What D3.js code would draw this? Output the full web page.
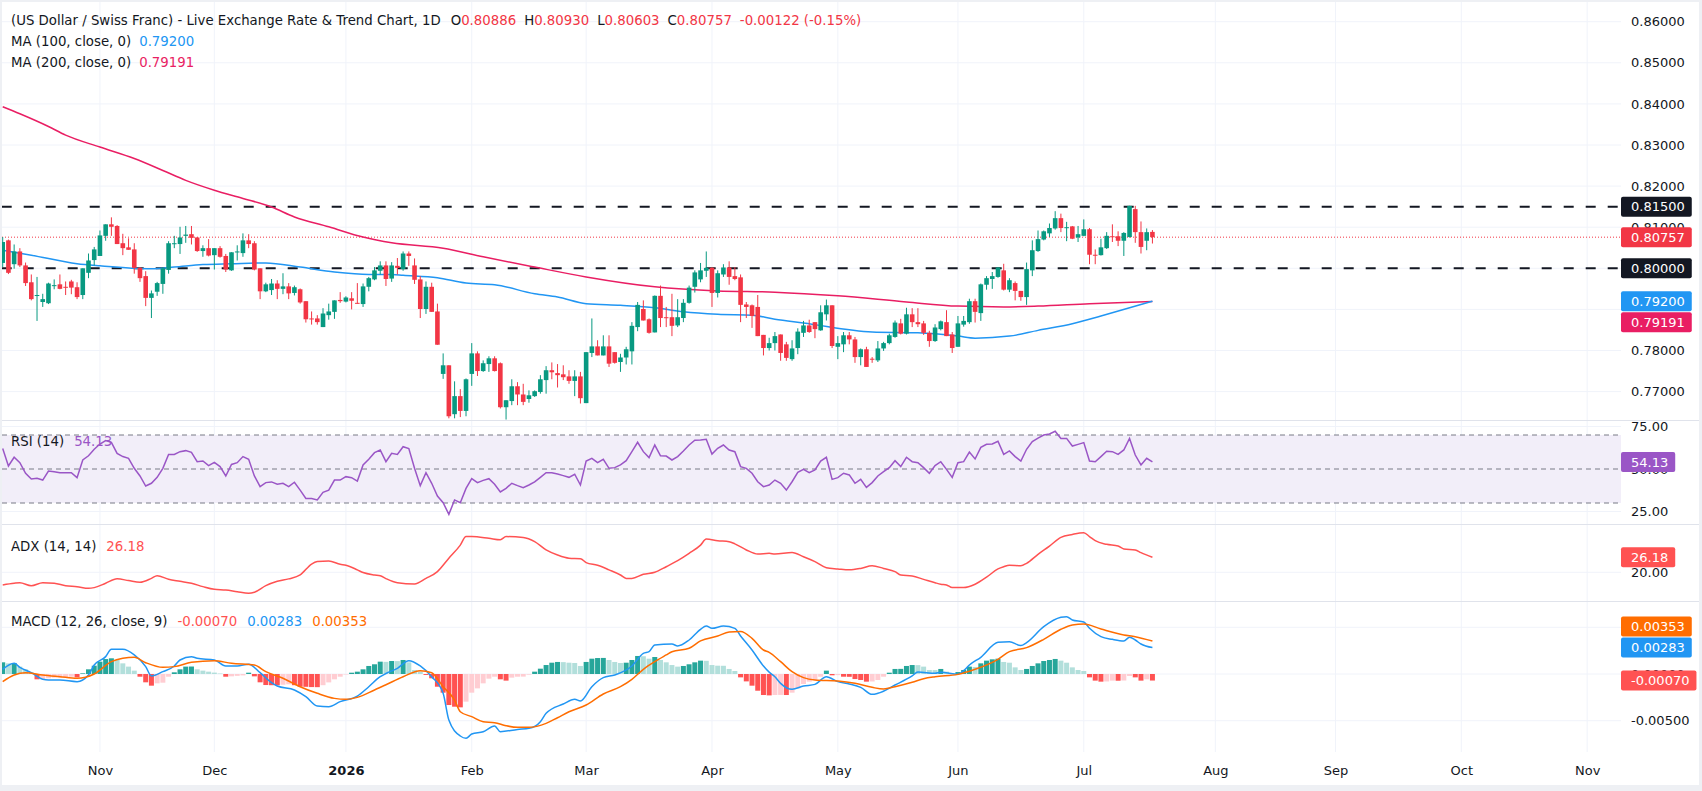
<!DOCTYPE html>
<html><head><meta charset="utf-8">
<script src="https://cdn.jsdelivr.net/npm/d3@7"></script>
<style>
html,body{margin:0;padding:0;background:#eef0f4;}
svg{display:block;}
text{font-family:"DejaVu Sans",sans-serif;font-size:13px;}
text.lg{font-size:13.3px;}
</style></head><body>
<svg id="c" width="1702" height="791"></svg>
<script>
// ---------------- DATA ----------------
const firstBarDate = "2025-10-09";
const open = [0.8013,0.8068,0.8010,0.8041,0.8007,0.7966,0.7933,0.7918,0.7915,0.7957,
0.7961,0.7955,0.7968,0.7954,0.7935,0.7989,0.8020,0.8030,0.8079,0.8107,
0.8103,0.8061,0.8051,0.8046,0.8001,0.7981,0.7928,0.7943,0.7962,0.7996,
0.8059,0.8059,0.8079,0.8083,0.8075,0.8042,0.8049,0.8032,0.8049,0.8030,
0.7995,0.8039,0.8037,0.8068,0.8061,0.8000,0.7944,0.7947,0.7963,0.7950,
0.7956,0.7940,0.7949,0.7920,0.7878,0.7878,0.7857,0.7886,0.7894,0.7923,
0.7919,0.7927,0.7916,0.7913,0.7955,0.7973,0.7994,0.8007,0.7975,0.8006,
0.7998,0.8036,0.8007,0.7973,0.7901,0.7955,0.7895,0.7743,0.7764,0.7645,
0.7689,0.7653,0.7743,0.7793,0.7750,0.7767,0.7781,0.7769,0.7662,0.7677,
0.7713,0.7693,0.7682,0.7689,0.7699,0.7728,0.7752,0.7745,0.7742,0.7737,
0.7726,0.7737,0.7672,0.7794,0.7810,0.7788,0.7810,0.7796,0.7772,0.7783,
0.7798,0.7857,0.7901,0.7876,0.7844,0.7933,0.7881,0.7881,0.7861,0.7879,
0.7916,0.7955,0.7973,0.7994,0.8001,0.7940,0.7985,0.8002,0.7981,0.7978,
0.7912,0.7910,0.7906,0.7838,0.7806,0.7818,0.7839,0.7815,0.7779,0.7806,
0.7843,0.7861,0.7869,0.7849,0.7888,0.7910,0.7809,0.7815,0.7837,0.7827,
0.7784,0.7803,0.7780,0.7776,0.7805,0.7818,0.7833,0.7866,0.7841,0.7888,
0.7869,0.7866,0.7843,0.7823,0.7852,0.7869,0.7839,0.7809,0.7863,0.7869,
0.7920,0.7891,0.7960,0.7974,0.7979,0.7995,0.7948,0.7964,0.7945,0.7930,
0.7995,0.8042,0.8070,0.8085,0.8097,0.8122,0.8098,0.8102,0.8075,0.8079,
0.8095,0.8033,0.8032,0.8049,0.8078,0.8078,0.8067,0.8076,0.8144,0.8088,
0.8067,0.80886];
const high = [0.8076,0.8070,0.8058,0.8049,0.8014,0.7985,0.7979,0.7938,0.7965,0.7973,
0.7985,0.7968,0.7972,0.7966,0.8000,0.8036,0.8052,0.8092,0.8107,0.8124,
0.8105,0.8084,0.8073,0.8061,0.8003,0.7993,0.7946,0.7967,0.8003,0.8066,
0.8079,0.8101,0.8103,0.8103,0.8076,0.8056,0.8071,0.8049,0.8054,0.8035,
0.8039,0.8056,0.8085,0.8083,0.8066,0.8000,0.7965,0.7974,0.7971,0.7988,
0.7964,0.7958,0.7951,0.7920,0.7895,0.7886,0.7903,0.7914,0.7922,0.7942,
0.7932,0.7942,0.7964,0.7963,0.7979,0.8003,0.8017,0.8017,0.8015,0.8025,
0.8041,0.8041,0.8024,0.7981,0.7968,0.7965,0.7914,0.7793,0.7764,0.7725,
0.7706,0.7732,0.7818,0.7798,0.7776,0.7786,0.7786,0.7771,0.7679,0.7730,
0.7723,0.7719,0.7703,0.7703,0.7740,0.7762,0.7771,0.7767,0.7764,0.7752,
0.7752,0.7748,0.7796,0.7878,0.7825,0.7837,0.7837,0.7796,0.7792,0.7809,
0.7869,0.7918,0.7922,0.7878,0.7934,0.7958,0.7906,0.7938,0.7925,0.7925,
0.7958,0.7995,0.8013,0.8041,0.8003,0.7995,0.8010,0.8017,0.8003,0.7985,
0.7918,0.7912,0.7935,0.7838,0.7831,0.7845,0.7839,0.7821,0.7825,0.7854,
0.7872,0.7875,0.7869,0.7910,0.7924,0.7910,0.7835,0.7845,0.7845,0.7833,
0.7805,0.7809,0.7784,0.7823,0.7821,0.7841,0.7873,0.7877,0.7904,0.7903,
0.7903,0.7872,0.7848,0.7864,0.7873,0.7898,0.7845,0.7884,0.7884,0.7926,
0.7926,0.7963,0.7981,0.7991,0.8003,0.8011,0.7976,0.7968,0.7945,0.8014,
0.8068,0.8092,0.8092,0.8109,0.8139,0.8133,0.8113,0.8103,0.8103,0.8119,
0.8098,0.8046,0.8072,0.8088,0.8107,0.8090,0.8088,0.8152,0.8152,0.8114,
0.8097,0.80930];
const low = [0.8003,0.7986,0.7999,0.8003,0.7957,0.7922,0.7872,0.7906,0.7913,0.7949,
0.7949,0.7935,0.7937,0.7925,0.7925,0.7976,0.8007,0.8030,0.8067,0.8079,
0.8059,0.8032,0.8045,0.7987,0.7967,0.7908,0.7879,0.7933,0.7938,0.7987,
0.8049,0.8035,0.8062,0.8058,0.8040,0.8028,0.8029,0.7997,0.8026,0.7991,
0.7994,0.8019,0.8028,0.8049,0.7995,0.7925,0.7942,0.7935,0.7925,0.7937,
0.7925,0.7934,0.7914,0.7868,0.7863,0.7863,0.7857,0.7875,0.7877,0.7916,
0.7917,0.7900,0.7914,0.7906,0.7944,0.7971,0.7985,0.7957,0.7967,0.7985,
0.7994,0.8006,0.7962,0.7879,0.7889,0.7894,0.7814,0.7731,0.7635,0.7635,
0.7638,0.7640,0.7714,0.7738,0.7748,0.7748,0.7749,0.7659,0.7632,0.7667,
0.7667,0.7667,0.7673,0.7687,0.7695,0.7695,0.7730,0.7710,0.7728,0.7719,
0.7689,0.7671,0.7672,0.7784,0.7788,0.7788,0.7760,0.7768,0.7748,0.7766,
0.7766,0.7847,0.7873,0.7841,0.7844,0.7857,0.7857,0.7835,0.7857,0.7869,
0.7914,0.7941,0.7966,0.7979,0.7906,0.7929,0.7979,0.7960,0.7971,0.7869,
0.7879,0.7855,0.7835,0.7788,0.7800,0.7800,0.7775,0.7775,0.7775,0.7791,
0.7833,0.7843,0.7830,0.7848,0.7873,0.7806,0.7779,0.7796,0.7815,0.7770,
0.7764,0.7760,0.7770,0.7772,0.7799,0.7815,0.7831,0.7839,0.7839,0.7857,
0.7857,0.7838,0.7809,0.7821,0.7849,0.7835,0.7794,0.7809,0.7858,0.7865,
0.7868,0.7872,0.7948,0.7950,0.7977,0.7946,0.7942,0.7922,0.7921,0.7911,
0.7981,0.8040,0.8068,0.8076,0.8094,0.8088,0.8066,0.8071,0.8064,0.8078,
0.8010,0.8010,0.8031,0.8047,0.8064,0.8054,0.8030,0.8075,0.8062,0.8036,
0.8044,0.80603];
const close = [0.8064,0.7989,0.8041,0.8007,0.7964,0.7925,0.7935,0.7925,0.7963,0.7959,
0.7950,0.7954,0.7953,0.7930,0.8000,0.8019,0.8046,0.8080,0.8107,0.8101,
0.8059,0.8049,0.8045,0.8001,0.7976,0.7928,0.7939,0.7964,0.8000,0.8061,
0.8061,0.8075,0.8082,0.8074,0.8042,0.8049,0.8031,0.8049,0.8028,0.7997,
0.8039,0.8041,0.8068,0.8059,0.7997,0.7944,0.7961,0.7963,0.7950,0.7956,
0.7939,0.7954,0.7917,0.7876,0.7876,0.7869,0.7890,0.7895,0.7922,0.7920,
0.7929,0.7921,0.7914,0.7956,0.7976,0.7995,0.8007,0.7974,0.8007,0.8001,
0.8036,0.8030,0.7972,0.7901,0.7955,0.7894,0.7814,0.7764,0.7640,0.7689,
0.7653,0.7730,0.7793,0.7750,0.7769,0.7781,0.7750,0.7662,0.7679,0.7713,
0.7693,0.7675,0.7691,0.7701,0.7730,0.7752,0.7747,0.7740,0.7735,0.7726,
0.7737,0.7684,0.7796,0.7810,0.7788,0.7810,0.7768,0.7770,0.7783,0.7803,
0.7860,0.7911,0.7873,0.7843,0.7933,0.7879,0.7879,0.7860,0.7881,0.7916,
0.7953,0.7990,0.7995,0.8001,0.7940,0.7988,0.8002,0.7979,0.7974,0.7911,
0.7906,0.7884,0.7835,0.7806,0.7818,0.7835,0.7794,0.7782,0.7805,0.7846,
0.7861,0.7845,0.7852,0.7893,0.7910,0.7811,0.7818,0.7837,0.7827,0.7784,
0.7803,0.7760,0.7778,0.7805,0.7818,0.7837,0.7868,0.7841,0.7888,0.7869,
0.7864,0.7843,0.7823,0.7856,0.7871,0.7835,0.7806,0.7866,0.7872,0.7920,
0.7894,0.7961,0.7976,0.7981,0.8002,0.7948,0.7971,0.7945,0.7930,0.7998,
0.8044,0.8071,0.8090,0.8098,0.8122,0.8098,0.8100,0.8072,0.8083,0.8095,
0.8033,0.8031,0.8051,0.8079,0.8076,0.8067,0.8086,0.8152,0.8088,0.8052,
0.80879,0.80757];

const ma100Bars = [0,5,13,17,26,30,35,40,46,52,58,64,68,70,76,81,86,93,97,102,108,114,119,125,131,135,140,152,160,167,170,176,181,187,192,201];
const ma100Vals = [0.8044,0.8032,0.8011,0.8006,0.7999,0.8003,0.8009,0.8011,0.8013,0.8003,0.7991,0.7985,0.7985,0.7983,0.7977,0.7964,0.7960,0.7938,0.7930,0.7914,0.7910,0.7904,0.7894,0.7888,0.7886,0.7876,0.7867,0.7845,0.7843,0.7835,0.7830,0.7835,0.7849,0.7865,0.7884,0.7920];
const ma200Bars = [0,3,8,11,17,23,28,32,37,42,47,51,57,63,68,77,84,93,102,114,125,135,146,158,167,175,181,190,201];
const ma200Vals = [0.8393,0.8376,0.8345,0.8324,0.8295,0.8267,0.8238,0.8214,0.8190,0.8170,0.8149,0.8125,0.8101,0.8076,0.8062,0.8049,0.8028,0.8003,0.7979,0.7955,0.7945,0.7942,0.7933,0.7918,0.7908,0.7906,0.7908,0.7914,0.79191];

const rsi = [62,51.8,56.9,53.7,47.5,44.1,44.5,43.5,48.8,48.4,
47.8,47.8,47.8,44.9,55.3,57.8,61.6,64.7,66.7,65.7,
59.2,57.3,56.3,50.4,45.9,40,41.6,45.1,50.4,58.6,
58.6,60.2,60.8,59.8,54.3,54.7,52,53.9,51.4,45.9,
52.7,53.7,57.3,55.7,45.9,39.6,42,42.4,41,41.6,
39.6,42.2,37.6,32.7,32.7,31.8,36.3,37.6,43.5,43.5,
45.5,44.9,42.9,52.4,55.7,59.6,61.2,54.3,59.2,58.6,
63.1,62,50.4,40.2,47.8,41.6,34.1,30.2,23.3,31.8,
30.2,38.6,44.3,42,43.3,44.3,41,36.5,38.6,41.6,
40.2,39,40.6,42.4,45.1,47.8,47.8,47.1,46.1,45.1,
46.9,40.6,54.7,56.3,53.7,55.7,50.4,50.8,52.4,54.9,
60.2,65.7,60.2,56.7,64.1,57.8,57.6,55.3,57.3,60.6,
64.1,66.9,67.1,67.5,58.8,62.2,64.1,61.2,60.2,51.4,
50.4,47.5,42.5,39.6,40.6,43.5,41.6,37.6,42.5,48,
49.8,47.8,49.4,54.7,56.9,43.9,44.9,47.5,46.5,41.6,
43.9,39.2,42,45.9,48.4,50.8,54.9,51.4,56.9,54.3,
53.7,50.8,47.5,52,54.3,49.8,45.1,53.7,54.3,60,
55.9,62.7,64.5,64.7,66.3,58.6,60.6,57.3,54.7,61.6,
66.1,68.2,70,70.6,72.2,68,68,63.5,64.5,65.5,
54.7,54.3,57.3,60.4,60.2,58.6,61.2,68,58.2,52.4,
56.3,54.13];
const rsiLevels = [70,50,30];

const adxBars = [0,2,3,5,7,9,11,13,15,16,18,20,22,24,26,27,29,31,33,35,37,39,41,43,44,46,48,50,52,54,55,57,59,60,62,63,65,66,67,69,72,74,76,78,80,81,82,85,87,88,91,93,95,97,99,101,102,104,106,108,109,110,112,114,116,118,120,122,123,125,127,128,130,132,134,135,138,140,142,144,146,148,150,152,154,156,157,159,161,163,164,165,166,168,170,172,174,175,176,178,179,181,183,185,187,189,190,191,193,195,196,198,199,201];
const adxVals = [14.8,15.5,15.7,14.5,15.7,15.5,14.5,14.1,13.4,13.7,15.5,17.3,16.6,15.9,17.5,18.6,17.1,16.3,15.5,14.1,13.0,12.7,12.0,11.4,11.8,14.5,16.3,17.3,18.9,23.4,24.4,24.7,23.3,22.9,21.0,19.9,18.9,18.6,17.4,15.7,15.2,17.5,20.3,25.8,31.2,34.7,34.7,34.0,33.4,34.7,34.3,32.6,29.2,27.1,25.8,25.6,24.0,22.9,21.0,18.9,17.5,17.5,19.2,20.0,22.3,24.8,27.8,31.2,33.7,33.0,32.6,31.7,29.2,27.5,27.8,27.5,28.1,26.4,24.4,21.9,21.4,21.0,21.6,22.7,21.6,20.3,18.9,18.5,17.1,15.7,15.1,14.8,13.7,13.7,15.1,18.0,21.4,22.3,22.9,22.7,23.7,27.4,30.8,34.4,35.6,36.3,34.7,33.0,31.5,30.8,29.6,29.2,28.1,26.18];

// MACD values in thousandths
const macdBars = [0,2,3,5,7,8,10,13,15,16,18,19,21,23,25,26,28,30,31,33,34,37,39,41,43,45,47,48,51,53,55,57,59,62,64,66,67,69,71,73,75,77,78,80,81,82,84,86,87,90,92,94,95,98,100,101,103,105,107,110,112,113,114,117,118,120,122,123,124,126,128,129,131,133,134,135,136,138,140,142,144,146,148,150,152,153,156,159,160,163,164,167,168,169,171,174,176,178,179,182,185,186,187,189,190,192,194,196,197,198,199,201];
const macdVals = [0.50,1.14,0.71,0.14,-0.57,-0.64,-0.64,-0.82,-0.11,0.96,1.86,2.64,2.64,2.04,0.79,-0.21,0.25,0.86,1.5,1.86,1.68,1.5,0.86,0.86,1.04,0.14,-0.93,-1.29,-1.71,-2.43,-3.43,-3.5,-2.96,-2.36,-1.36,-0.29,0.05,0.61,1.43,0.86,-0.29,-2.07,-4.93,-6.64,-6.89,-6.43,-6.18,-5.57,-6.18,-5.93,-5.82,-5.11,-4.21,-3.21,-2.71,-2.89,-1.36,-0.39,-0.11,0.86,2.21,2.39,3.11,3.21,3.0,3.64,4.79,5.14,4.89,5.14,4.89,4.07,2.57,0.86,0.2,-0.29,-1.0,-1.64,-1.29,-1.11,-0.29,-0.82,-1.07,-1.43,-2.18,-2.07,-1.18,-0.21,0.21,0.07,0.18,-0.04,0.36,0.96,1.79,3.39,3.46,3.04,3.36,5.07,6.07,6.14,5.79,5.57,4.89,4.0,3.71,3.54,3.93,3.64,3.21,2.83];
const signalBars = [0,2,4,7,10,13,16,19,21,23,25,28,30,33,37,40,44,46,49,52,55,58,60,62,65,67,70,73,75,77,79,80,82,84,86,88,90,92,95,97,99,102,105,108,110,112,114,116,117,120,122,125,127,129,131,133,134,136,138,140,142,146,149,152,154,156,159,161,163,167,170,174,176,179,182,185,187,189,192,196,198,201];
const signalVals = [-0.82,-0.11,0.14,-0.11,-0.29,-0.46,0,1.32,1.68,1.79,1.21,0.71,0.79,1.25,1.43,1.14,0.96,0.25,-0.46,-1.36,-2.07,-2.61,-2.71,-2.5,-1.71,-1.15,-0.29,0.36,0.14,-1.36,-2.79,-4.04,-4.57,-5.11,-5.21,-5.54,-5.71,-5.71,-5.29,-4.68,-4.04,-3.32,-2.14,-1.36,-0.57,0.5,1.32,2.04,2.39,2.75,3.54,4.07,4.5,4.54,3.82,2.57,2.32,1.32,0.25,-0.39,-0.64,-0.75,-1.0,-1.43,-1.61,-1.36,-0.89,-0.5,-0.29,-0.04,0.5,1.57,2.39,2.82,3.71,4.79,5.25,5.36,4.82,4.18,4.0,3.53];
const hist = [1.25,1.14,1.18,0.79,0.5,0.18,-0.57,-0.55,-0.46,-0.39,
-0.38,-0.36,-0.29,-0.36,0.07,0.5,0.89,1.32,1.6,1.68,
1.5,1.14,0.79,0.36,-0.29,-0.89,-1.25,-1.0,-0.93,-0.29,
0.18,0.5,0.79,0.8,0.5,0.36,0.25,0.15,0.05,-0.29,
-0.25,-0.2,-0.15,0.14,-0.25,-0.89,-1.18,-1.2,-1.21,-1.15,
-1.1,-1.2,-1.36,-1.37,-1.4,-1.41,-1.2,-0.9,-0.57,-0.29,
-0.05,0.14,0.25,0.5,0.86,1.04,1.32,1.3,1.39,1.38,
1.5,1.25,0.43,0.25,-0.1,-0.46,-1.36,-2.0,-3.32,-3.5,
-3.57,-2.96,-2.0,-1.54,-1.0,-0.5,-0.29,-0.57,-0.71,-0.39,
-0.29,-0.28,-0.07,0.25,0.57,0.96,1.21,1.29,1.27,1.21,
1.18,0.86,1.29,1.64,1.71,1.72,1.5,1.29,1.18,1.21,
1.5,1.93,1.9,1.64,1.82,1.5,1.25,0.96,0.79,0.86,
1.04,1.25,1.43,1.41,0.96,0.89,0.88,0.54,0.32,-0.36,
-0.79,-1.25,-1.79,-2.25,-2.29,-2.25,-2.24,-2.25,-2.0,-1.54,
-1.07,-0.82,-0.64,-0.29,0.36,-0.14,-0.12,-0.29,-0.3,-0.54,
-0.64,-0.82,-0.8,-0.64,-0.29,0.14,0.54,0.55,0.86,0.96,
0.95,0.79,0.43,0.42,0.54,0.25,0.07,0.21,0.43,0.79,
0.75,1.14,1.43,1.57,1.64,1.29,1.21,0.71,0.43,0.54,
0.86,1.14,1.39,1.5,1.61,1.43,1.21,0.71,0.43,0.32,
-0.36,-0.71,-0.82,-0.8,-0.71,-0.72,-0.7,-0.21,-0.36,-0.71,
-0.57,-0.70];

const priceTicks = [0.86,0.85,0.84,0.83,0.82,0.81,0.80,0.79,0.78,0.77];
const levelLines = [0.815, 0.80];
const rsiTicks = [75,50,25];
const adxTicks = [20];
const macdTicks = [5,0,-5];
const monthTickDates = ["2025-11-03","2025-12-01","2026-01-01","2026-02-02","2026-03-02","2026-04-01","2026-05-01","2026-06-01","2026-07-01","2026-08-03","2026-09-01","2026-10-01","2026-11-02"];
const monthTickLabels = ["Nov","Dec","2026","Feb","Mar","Apr","May","Jun","Jul","Aug","Sep","Oct","Nov"];
const titleText = "(US Dollar / Swiss Franc) - Live Exchange Rate & Trend Chart, 1D";

// ---------------- RENDER ----------------
const svg = d3.select("#c");
const W = 1702, H = 791, plotR = 1621;
const C = {up:"#089981", dn:"#F23645", ma100:"#2196F3", ma200:"#E91E63", rsi:"#9A56C6",
  adx:"#FF5252", macd:"#2196F3", sig:"#FF6D00", grid:"#F0F3FA", sep:"#E0E3EB", txt:"#131722"};

svg.append("rect").attr("width",W).attr("height",H).attr("fill","#eef0f4");
svg.append("rect").attr("x",2).attr("y",2).attr("width",1697).attr("height",783).attr("fill","#fff");

const days = [];
{ let d = new Date(firstBarDate+"T00:00:00Z"); const end = new Date("2026-11-30T00:00:00Z");
  while (d <= end) { const w = d.getUTCDay(); if (w!==0 && w!==6) days.push(d.toISOString().slice(0,10)); d = new Date(d.getTime()+864e5); } }
const monthIdx = monthTickDates.map(s => days.indexOf(s));

const x = d3.scaleLinear().domain([0,280]).range([2.7, 2.7+280*5.72]);
const yM = d3.scaleLinear().domain([0.77,0.86]).range([391.6,21.7]);
const yR = d3.scaleLinear().domain([30,70]).range([503,435]);
const yA = d3.scaleLinear().domain([20,40]).range([572.3,523.7]);
const yD = d3.scaleLinear().domain([-5,5]).range([720.7,627.3]);

const panes = {main:[2,420], rsi:[421,524], adx:[525,601], macd:[602,752]};
const defs = svg.append("defs");
Object.entries(panes).forEach(([k,[t,b]]) => {
  defs.append("clipPath").attr("id","clip-"+k).append("rect").attr("x",2).attr("y",t).attr("width",plotR-2).attr("height",b-t);
});

const grid = svg.append("g").attr("stroke",C.grid).attr("stroke-width",1);
monthIdx.forEach(i => grid.append("line").attr("x1",x(i)).attr("x2",x(i)).attr("y1",2).attr("y2",752));
priceTicks.forEach(p => grid.append("line").attr("x1",2).attr("x2",plotR).attr("y1",yM(p)).attr("y2",yM(p)));
rsiTicks.forEach(v => grid.append("line").attr("x1",2).attr("x2",plotR).attr("y1",yR(v)).attr("y2",yR(v)));
adxTicks.forEach(v => grid.append("line").attr("x1",2).attr("x2",plotR).attr("y1",yA(v)).attr("y2",yA(v)));
macdTicks.forEach(v => grid.append("line").attr("x1",2).attr("x2",plotR).attr("y1",yD(v)).attr("y2",yD(v)));

[420.5,524.5,601.5].forEach(yy => svg.append("line").attr("x1",2).attr("x2",1699).attr("y1",yy).attr("y2",yy).attr("stroke",C.sep));

// ---- main pane
const gM = svg.append("g").attr("clip-path","url(#clip-main)");
levelLines.forEach(p => gM.append("line").attr("x1",1.7).attr("x2",plotR).attr("y1",yM(p)).attr("y2",yM(p))
  .attr("stroke",C.txt).attr("stroke-width",2).attr("stroke-dasharray","10,12"));
const lastClose = close[close.length-1];
gM.append("line").attr("x1",2).attr("x2",plotR).attr("y1",yM(lastClose)).attr("y2",yM(lastClose))
  .attr("stroke",C.dn).attr("stroke-width",1).attr("stroke-dasharray","1,2");

const lineM = (bars, vals) => d3.line().x((d,i)=>x(bars[i])).y((d,i)=>yM(vals[i])).curve(d3.curveMonotoneX)(vals);
gM.append("path").attr("d",lineM(ma200Bars,ma200Vals)).attr("fill","none").attr("stroke",C.ma200).attr("stroke-width",1.5);
gM.append("path").attr("d",lineM(ma100Bars,ma100Vals)).attr("fill","none").attr("stroke",C.ma100).attr("stroke-width",1.5);

const idx = d3.range(close.length);
const col = i => close[i] < open[i] ? C.dn : C.up;
gM.selectAll("rect.wick").data(idx).join("rect").attr("class","wick")
  .attr("x",i=>x(i)-0.5).attr("width",1).attr("y",i=>yM(high[i])).attr("height",i=>Math.max(1,yM(low[i])-yM(high[i]))).attr("fill",col);
gM.selectAll("rect.body").data(idx).join("rect").attr("class","body")
  .attr("x",i=>x(i)-2.3).attr("width",4.6)
  .attr("y",i=>yM(Math.max(open[i],close[i])))
  .attr("height",i=>Math.max(1,Math.abs(yM(open[i])-yM(close[i])))).attr("fill",col);

// ---- RSI pane
const gR = svg.append("g").attr("clip-path","url(#clip-rsi)");
gR.append("rect").attr("x",2).attr("width",plotR-2).attr("y",yR(70)).attr("height",yR(30)-yR(70)).attr("fill","#F2EEF9");
rsiLevels.forEach(v => gR.append("line").attr("x1",2).attr("x2",plotR).attr("y1",yR(v)).attr("y2",yR(v))
  .attr("stroke","#787B86").attr("stroke-dasharray","5,4"));
gR.append("path").attr("d",d3.line().x((d,i)=>x(i)).y(d=>yR(d))(rsi)).attr("fill","none").attr("stroke",C.rsi).attr("stroke-width",1.5);

// ---- ADX pane
const gA = svg.append("g").attr("clip-path","url(#clip-adx)");
gA.append("path").attr("d",d3.line().x((d,i)=>x(adxBars[i])).y(d=>yA(d)).curve(d3.curveMonotoneX)(adxVals))
  .attr("fill","none").attr("stroke",C.adx).attr("stroke-width",1.5);

// ---- MACD pane
const gD = svg.append("g").attr("clip-path","url(#clip-macd)");
const hcol = (v,i) => { const p = i>0 ? hist[i-1] : -Infinity;
  if (v >= 0) return v > p ? "#26A69A" : "#B2DFDB"; return v < p ? "#FF5252" : "#FFCDD2"; };
gD.selectAll("rect.h").data(hist).join("rect").attr("class","h")
  .attr("x",(d,i)=>x(i)-2.5).attr("width",5)
  .attr("y",d=>Math.min(yD(d),yD(0))).attr("height",d=>Math.max(0.5,Math.abs(yD(d)-yD(0))))
  .attr("fill",(d,i)=>hcol(d,i));
gD.append("path").attr("d",d3.line().x((d,i)=>x(macdBars[i])).y(d=>yD(d)).curve(d3.curveMonotoneX)(macdVals))
  .attr("fill","none").attr("stroke",C.macd).attr("stroke-width",1.5);
gD.append("path").attr("d",d3.line().x((d,i)=>x(signalBars[i])).y(d=>yD(d)).curve(d3.curveMonotoneX)(signalVals))
  .attr("fill","none").attr("stroke",C.sig).attr("stroke-width",1.5);

// ---- axes
function styleAxis(g){ g.select(".domain").remove(); g.attr("font-family","DejaVu Sans").attr("font-size",13).attr("color",C.txt); }
const axisGroups = [];
axisGroups.push(svg.append("g").attr("transform",`translate(${plotR},0)`)
  .call(d3.axisRight(yM).tickValues(priceTicks).tickSize(0).tickPadding(10).tickFormat(d=>d.toFixed(5))).call(styleAxis));
axisGroups.push(svg.append("g").attr("transform",`translate(${plotR},0)`)
  .call(d3.axisRight(yR).tickValues(rsiTicks).tickSize(0).tickPadding(10).tickFormat(d=>d.toFixed(2))).call(styleAxis));
axisGroups.push(svg.append("g").attr("transform",`translate(${plotR},0)`)
  .call(d3.axisRight(yA).tickValues(adxTicks).tickSize(0).tickPadding(10).tickFormat(d=>d.toFixed(2))).call(styleAxis));
axisGroups.push(svg.append("g").attr("transform",`translate(${plotR},0)`)
  .call(d3.axisRight(yD).tickValues(macdTicks).tickSize(0).tickPadding(10).tickFormat(d=>(d/1000).toFixed(5))).call(styleAxis));
const gT = svg.append("g").attr("transform","translate(0,752)")
  .call(d3.axisBottom(x).tickValues(monthIdx).tickSize(0).tickPadding(14).tickFormat((d,i)=>monthTickLabels[i])).call(styleAxis);
gT.selectAll("text").attr("font-weight",(d,i)=>monthTickLabels[i]==="2026"?"bold":"normal");

// ---- price label boxes
const boxCenters = [];
function placeLabels(list){
  const placed=[];
  list.forEach(L=>{ let yy=L.y; placed.forEach(P=>{ if(Math.abs(yy-P.y)<21) yy = (L.y>=P.y)?P.y+21:P.y-21; }); L.y=yy; placed.push(L); });
  list.forEach(L=>{
    boxCenters.push(L.y);
    const g = svg.append("g");
    const r = g.append("rect").attr("x",plotR).attr("y",L.y-10).attr("height",20).attr("rx",2).attr("fill",L.bg);
    const t = g.append("text").attr("x",plotR+10).attr("y",L.y+4.7).attr("fill","#fff").text(L.t);
    r.attr("width", t.node().getComputedTextLength()+17);
  });
}
const ma100Last = ma100Vals[ma100Vals.length-1], ma200Last = ma200Vals[ma200Vals.length-1];
placeLabels([
  {y:yM(levelLines[0]), t:levelLines[0].toFixed(5), bg:C.txt},
  {y:yM(levelLines[1]), t:levelLines[1].toFixed(5), bg:C.txt},
  {y:yM(lastClose), t:lastClose.toFixed(5), bg:C.dn},
  {y:yM(ma100Last), t:ma100Last.toFixed(5), bg:C.ma100},
  {y:yM(ma200Last), t:ma200Last.toFixed(5), bg:C.ma200}
]);
const rsiLast = rsi[rsi.length-1], adxLast = adxVals[adxVals.length-1];
placeLabels([{y:yR(rsiLast), t:rsiLast.toFixed(2), bg:C.rsi}]);
placeLabels([{y:yA(adxLast), t:adxLast.toFixed(2), bg:C.adx}]);
const hLast = hist[hist.length-1], mLast = macdVals[macdVals.length-1], sLast = signalVals[signalVals.length-1];
placeLabels([
  {y:yD(hLast), t:(hLast/1000).toFixed(5), bg:"#FF5252"},
  {y:yD(mLast), t:(mLast/1000).toFixed(5), bg:C.macd},
  {y:yD(sLast), t:(sLast/1000).toFixed(5), bg:C.sig}
]);
// hide axis tick labels that are completely covered by value boxes
axisGroups.forEach(g => g.selectAll(".tick").each(function(){
  const ty = +this.getAttribute("transform").match(/,\s*([-\d.]+)/)[1];
  let covered = true;
  for (let yy = ty-4.5; yy <= ty+4.5; yy += 1) { if (!boxCenters.some(b => Math.abs(yy-b) <= 10.5)) { covered = false; break; } }
  if (covered) d3.select(this).select("text").remove();
}));

// ---- legends
function legend(y, parts){
  const t = svg.append("text").attr("class","lg").attr("x",11).attr("y",y);
  parts.forEach(p => t.append("tspan").attr("dx",p.dx||0).attr("fill",p.c||C.txt).text(p.t));
}
const n = close.length-1, chg = close[n]-close[n-1];
legend(25.3, [{t:titleText},
  {t:"O",dx:10},{t:open[n].toFixed(5),c:C.dn},
  {t:"H",dx:8},{t:high[n].toFixed(5),c:C.dn},
  {t:"L",dx:8},{t:low[n].toFixed(5),c:C.dn},
  {t:"C",dx:8},{t:close[n].toFixed(5),c:C.dn},
  {t:chg.toFixed(5)+" ("+(chg/close[n-1]*100).toFixed(2)+"%)",dx:8,c:C.dn}]);
legend(46, [{t:"MA (100, close, 0)"},{t:ma100Last.toFixed(5),dx:8,c:C.ma100}]);
legend(66.5, [{t:"MA (200, close, 0)"},{t:ma200Last.toFixed(5),dx:8,c:C.ma200}]);
legend(445.7, [{t:"RSI (14)"},{t:rsiLast.toFixed(2),dx:10,c:C.rsi}]);
legend(550.7, [{t:"ADX (14, 14)"},{t:adxLast.toFixed(2),dx:10,c:C.adx}]);
legend(626.4, [{t:"MACD (12, 26, close, 9)"},{t:(hLast/1000).toFixed(5),dx:10,c:"#FF5252"},
  {t:(mLast/1000).toFixed(5),dx:10,c:C.macd},{t:(sLast/1000).toFixed(5),dx:10,c:C.sig}]);
</script>
</body></html>
